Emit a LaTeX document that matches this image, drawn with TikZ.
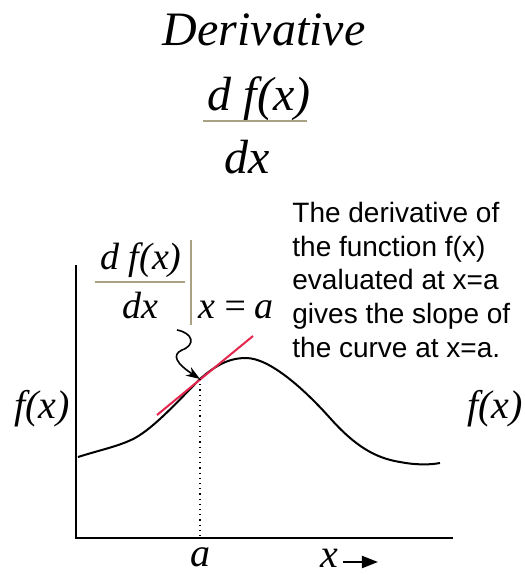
\documentclass[tikz,border=0pt]{standalone}
\usepackage{fontspec}
\setmainfont{Liberation Serif}
\newfontfamily\helv{Liberation Sans}
\usepackage{tikz}
\usetikzlibrary{arrows.meta, positioning}
\definecolor{tanline}{RGB}{170,160,130}
\definecolor{tangentred}{RGB}{228,38,78}

\begin{document}
\begin{tikzpicture}[x=0.5pt, y=-0.5pt,
    big/.style={inner sep=0pt, font=\fontsize{24}{28}\selectfont\itshape},
    mid/.style={inner sep=0pt, font=\fontsize{19}{23}\selectfont\itshape},
    lbl/.style={inner sep=0pt, font=\fontsize{20}{24}\selectfont\itshape}]
    \useasboundingbox (0,0) rectangle (525,575);

    % Title and main fraction
    \node[big, anchor=base] (title) at (264,45) {Derivative};
    \node[big, anchor=base] (num) at (259,110) {d f(x)};
    \node[big, anchor=base] (den) at (247,173) {dx};
    \draw[tanline, line width=0.75pt] (203,121) -- (307,121);

    % Axes
    \coordinate (O) at (76,538);
    \draw[line width=1pt] (76,265) -- (O) -- (453,538);

    % Curve
    \coordinate (P) at (200,379);
    \draw[line width=1pt] (78,457) .. controls (100,450) and (120,446) .. (135,438)
        .. controls (155,427) and (180,399) .. (P)
        .. controls (215,366) and (228,358) .. (246,358)
        .. controls (270,358) and (305,390) .. (330,418)
        .. controls (355,446) and (375,458) .. (400,462)
        .. controls (415,465) and (430,465) .. (440,463);

    % Tangent line at x=a
    \draw[tangentred, line width=1pt] (157,415) -- (253,336);

    % Dotted line down to a
    \coordinate (A) at (200,538);
    \draw[line width=0.6pt, dotted] (P) -- (A);

    % Evaluated derivative
    \node[mid, anchor=base] (lnum) at (141,269) {d f(x)};
    \node[mid, anchor=base] (lden) at (140,318) {dx};
    \draw[tanline, line width=0.75pt] (95,282) -- (185,282);
    \draw[tanline, line width=0.75pt] (191,240) -- (191,325);
    \node[mid, anchor=base] (xa) at (236,318) {x\,=\,a};

    % Squiggly arrow
    \coordinate (S) at (177,330);
    \draw[line width=0.8pt, -{Stealth[length=7pt, width=5pt]}] (S)
        .. controls (193,333) and (196,345) .. (182,350)
        .. controls (171,355) and (177,364) .. (P);

    % Axis labels
    \node[lbl, anchor=base] (fl) at (42,418) {f(x)};
    \node[lbl, anchor=base] (fr) at (495,418) {f(x)};
    \node[lbl, anchor=base] (a) at (201,566) {a};
    \node[lbl, anchor=base] (x) at (329,567) {x};
    \coordinate (ar1) at (343,562);
    \coordinate (ar2) at (378,562);
    \draw[line width=1pt, -{Triangle[length=8pt, width=6pt]}] (ar1) -- (ar2);

    % Explanation
    \node[anchor=north west, inner sep=0pt, align=left,
        font=\helv\fontsize{14}{16.8}\selectfont] (note) at (292,202)
        {The derivative of\\the function f(x)\\evaluated at x=a\\gives the slope of\\the curve at x=a.};
\end{tikzpicture}
\end{document}
